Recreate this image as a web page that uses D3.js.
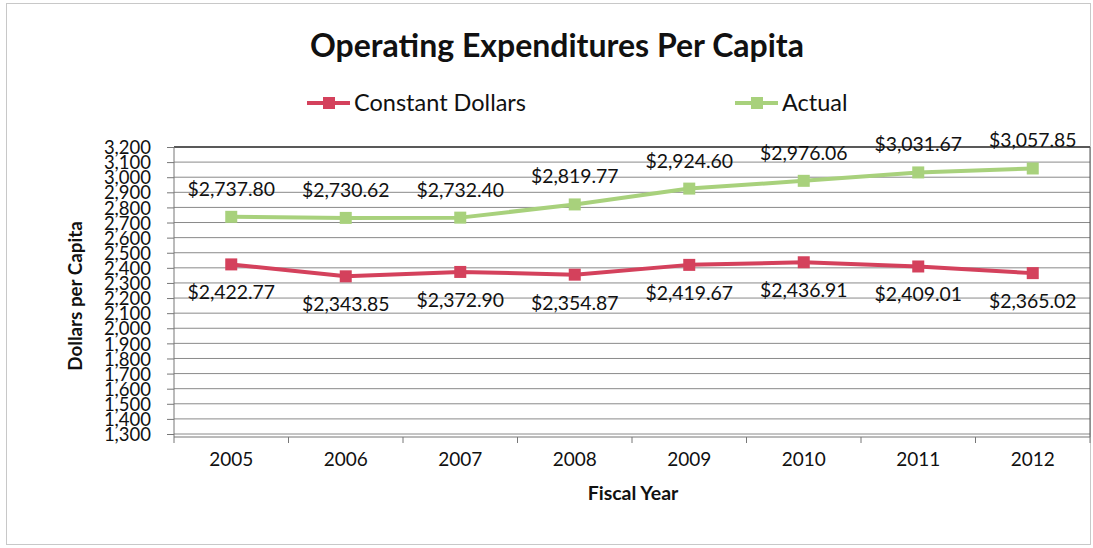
<!DOCTYPE html>
<html>
<head>
<meta charset="utf-8">
<script src="https://cdn.jsdelivr.net/npm/d3@7"></script>
<style>
  html, body { margin: 0; padding: 0; background: #fff; }
  svg text { font-family: Lato, "Open Sans", sans-serif; fill: #111; }
</style>
</head>
<body>
<svg id="chart" width="1093" height="548"></svg>
<script>
// Operating expenditures per capita, fiscal years 2005–2012
const years = ["2005", "2006", "2007", "2008", "2009", "2010", "2011", "2012"];
const constantDollars = [2422.77, 2343.85, 2372.90, 2354.87, 2419.67, 2436.91, 2409.01, 2365.02];
const actual = [2737.80, 2730.62, 2732.40, 2819.77, 2924.60, 2976.06, 3031.67, 3057.85];
const yTicks = d3.range(1300, 3201, 100);

const series = [
  { name: "Constant Dollars", values: constantDollars, color: "#d4415c", labelDy: 28 },
  { name: "Actual", values: actual, color: "#a8d17c", labelDy: -28 }
];

const svg = d3.select("#chart");
const W = 1093, H = 548;
const plot = { left: 174, right: 1090, top: 147, bottom: 437 };

// outer chart frame
svg.append("rect")
  .attr("x", 6.5).attr("y", 3.5).attr("width", W - 9).attr("height", H - 7)
  .attr("fill", "none").attr("stroke", "#c8c8c8").attr("stroke-width", 1);

const x = d3.scaleBand().domain(years).range([plot.left, plot.right]);
const y = d3.scaleLinear().domain([1300, 3200]).range([plot.bottom - 3, plot.top]);

// horizontal gridlines
svg.append("g")
  .selectAll("line")
  .data(yTicks)
  .join("line")
  .attr("x1", plot.left).attr("x2", plot.right)
  .attr("y1", d => y(d)).attr("y2", d => y(d))
  .attr("stroke", d => d === 3200 ? "#222" : "#8a8a8a")
  .attr("stroke-width", d => d === 3200 ? 1.4 : 1);

// right border of plot area
svg.append("line")
  .attr("x1", plot.right).attr("x2", plot.right)
  .attr("y1", y(3200)).attr("y2", plot.bottom)
  .attr("stroke", "#555").attr("stroke-width", 1);

// y axis
const yAxis = svg.append("g")
  .attr("transform", `translate(${plot.left},0)`)
  .call(d3.axisLeft(y).tickValues(yTicks).tickFormat(d3.format(",")).tickSize(7).tickPadding(16));
yAxis.select(".domain").attr("stroke", "#777").attr("d", `M0,${y(3200)}V${plot.bottom}`);
yAxis.selectAll(".tick line").attr("stroke", "#777");
yAxis.selectAll(".tick text")
  .style("font-size", "18.5px").attr("fill", "#111").attr("dy", "0.36em");

// x axis
const xAxis = svg.append("g")
  .attr("transform", `translate(0,${plot.bottom})`)
  .call(d3.axisBottom(x).tickSize(0).tickPadding(16));
xAxis.select(".domain").attr("stroke", "#777").attr("d", `M${plot.left},0H${plot.right}`);
xAxis.selectAll(".tick text").style("font-size", "19px").attr("fill", "#111");
// band boundary tick marks
xAxis.append("g")
  .selectAll("line")
  .data(years.concat(["end"]))
  .join("line")
  .attr("x1", (d, i) => plot.left + i * x.step())
  .attr("x2", (d, i) => plot.left + i * x.step())
  .attr("y1", 0).attr("y2", 6)
  .attr("stroke", "#777");

// series lines, markers and value labels
const line = d3.line()
  .x((d, i) => x(years[i]) + x.bandwidth() / 2)
  .y(d => y(d));

series.forEach(s => {
  const g = svg.append("g");
  g.append("path")
    .datum(s.values)
    .attr("d", line)
    .attr("fill", "none")
    .attr("stroke", s.color)
    .attr("stroke-width", 4)
    .attr("stroke-linejoin", "round");
  g.selectAll("rect")
    .data(s.values)
    .join("rect")
    .attr("x", (d, i) => x(years[i]) + x.bandwidth() / 2 - 6)
    .attr("y", d => y(d) - 6)
    .attr("width", 12).attr("height", 12)
    .attr("fill", s.color);
  g.selectAll("text")
    .data(s.values)
    .join("text")
    .attr("x", (d, i) => x(years[i]) + x.bandwidth() / 2)
    .attr("y", d => y(d) + s.labelDy)
    .attr("dy", "0.36em")
    .attr("text-anchor", "middle")
    .style("font-size", "19.4px")
    .text(d => "$" + d3.format(",.2f")(d));
});

// title
svg.append("text")
  .attr("x", 557).attr("y", 45)
  .attr("dy", "0.36em")
  .attr("text-anchor", "middle")
  .style("font-size", "32px").style("font-weight", "bold")
  .text("Operating Expenditures Per Capita");

// legend
const legendItems = [
  { s: series[0], x: 307 },
  { s: series[1], x: 735 }
];
legendItems.forEach(({ s, x: lx }) => {
  const g = svg.append("g").attr("transform", `translate(${lx},103)`);
  g.append("line").attr("x1", 0).attr("x2", 43).attr("y1", 0).attr("y2", 0)
    .attr("stroke", s.color).attr("stroke-width", 4);
  g.append("rect").attr("x", 16).attr("y", -6).attr("width", 12).attr("height", 12)
    .attr("fill", s.color);
  g.append("text").attr("x", 47).attr("y", 0).attr("dy", "0.36em")
    .style("font-size", "23.5px").text(s.name);
});

// axis titles
svg.append("text")
  .attr("transform", "translate(75,296) rotate(-90)")
  .attr("text-anchor", "middle").attr("dy", "0.36em")
  .style("font-size", "18.8px").style("font-weight", "bold")
  .text("Dollars per Capita");

svg.append("text")
  .attr("x", 633).attr("y", 493).attr("dy", "0.36em")
  .attr("text-anchor", "middle")
  .style("font-size", "19.5px").style("font-weight", "bold")
  .text("Fiscal Year");
</script>
</body>
</html>
